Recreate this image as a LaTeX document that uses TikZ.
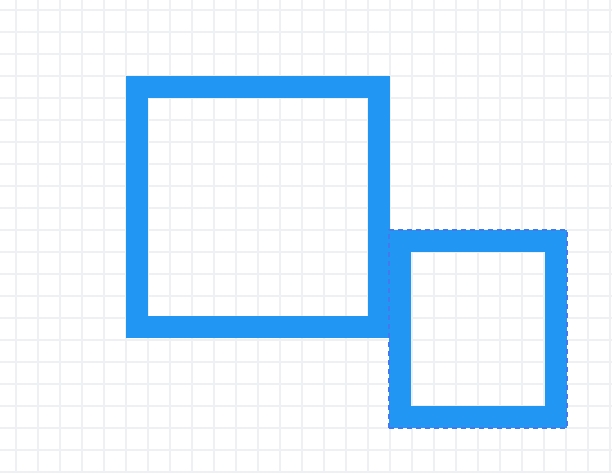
\documentclass[tikz,border=0pt]{standalone}
\usepackage{xcolor}
\definecolor{gridgray}{HTML}{EEF0F3}
\definecolor{boxblue}{HTML}{2196F3}
\definecolor{selblue}{HTML}{4577EE}
\begin{document}
\begin{tikzpicture}[
  x=1pt, y=1pt,
  gridline/.style={draw=gridgray, line width=2pt},
  frame/.style={draw=boxblue, line width=22pt},
  selection/.style={draw=selblue, line width=2pt, dash pattern=on 5pt off 4pt}
]
  \useasboundingbox (0,0) rectangle (612,472);
  \fill[white] (0,0) rectangle (612,472);
  % background grid
  \foreach \x in {16,38,...,610} \draw[gridline] (\x,0) -- (\x,472);
  \foreach \y in {462,440,...,0} \draw[gridline] (0,\y) -- (612,\y);
  % frames
  \coordinate (bigsw) at (137,145);
  \coordinate (bigne) at (379,385);
  \coordinate (smallsw) at (400,55);
  \coordinate (smallne) at (556,231);
  \draw[frame] (bigsw) rectangle (bigne);
  \draw[frame] (smallsw) rectangle (smallne);
  % selection outline
  \draw[selection] ([shift={(-11,-11)}]smallsw) rectangle ([shift={(11,11)}]smallne);
\end{tikzpicture}
\end{document}
